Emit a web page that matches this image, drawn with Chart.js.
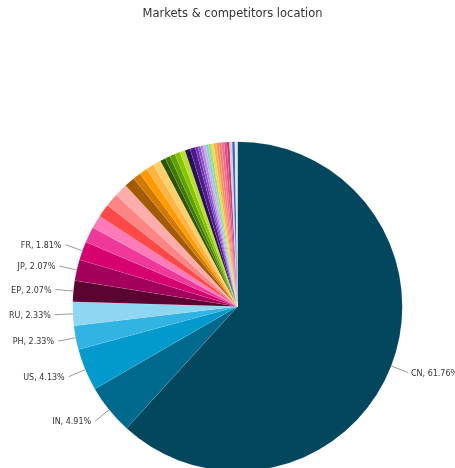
<!DOCTYPE html>
<html>
<head>
<meta charset="utf-8">
<script src="https://cdn.jsdelivr.net/npm/chart.js@4.4.1/dist/chart.umd.min.js"></script>
<style>
  html, body { margin: 0; padding: 0; background: #fff; }
  .wrap { width: 455px; height: 468px; overflow: hidden; }
</style>
</head>
<body>
<div class="wrap">
  <canvas id="markets" width="455" height="480"></canvas>
</div>
<script>
// patent counts per location, largest first (small ones have no visible label)
const locations = ['CN', 'IN', 'US', 'PH', 'RU', 'EP', 'JP', 'FR',
  '', '', '', '', '', '', '', '', '', '', '', '', '', '', '', '', '', '', '', '', '',
  '', '', '', '', '', '', '', '', '', '', '', '', '', '', '', ''];
const counts = [239, 19, 16, 9, 9, 8, 8, 7,
  6, 5, 5, 5, 5, 4, 3, 3, 3, 3, 2, 2, 2, 2, 2, 2, 2, 1, 1, 1,
  1, 1, 1, 1, 1, 1, 1, 1, 1, 1, 1, 1, 1];
const sliceColors = ['#03475f', '#006a8e', '#0299cc', '#31b3e3', '#8ed6f1',
  '#5c0431', '#a3005b', '#d6006f', '#f0379a', '#ff7ab9', '#ff4848', '#ff8585', '#ffacac',
  '#a35a00', '#d37800', '#ff9a00', '#ffb444', '#ffd06a',
  '#2d5200', '#3f7a00', '#5fa000', '#86c400', '#b8e030',
  '#2b0f54', '#4c1c8c', '#6e30b0', '#8e52cc', '#b085de',
  '#c9a9e9', '#7fd4d4', '#a8d870', '#eed84a', '#f6b04c', '#f59050', '#f47a74',
  '#ef6a96', '#e04a7c', '#c83a6a', '#d0cfe6', '#3f66b8', '#e4e4ec'];
const title = 'Markets & competitors location';
const minLabelPercent = 1.8;

const total = counts.reduce((a, b) => a + b, 0);

// title + outside labels with leader ticks
const outsideLabels = {
  id: 'outsideLabels',
  afterDraw(chart) {
    const ctx = chart.ctx;
    ctx.save();
    ctx.fillStyle = '#333';
    ctx.font = '11.5px "DejaVu Sans", sans-serif';
    ctx.textAlign = 'center';
    ctx.textBaseline = 'middle';
    ctx.fillText(title, 232.5, 14.5);

    ctx.font = '8px "DejaVu Sans", sans-serif';
    ctx.lineWidth = 1;
    ctx.strokeStyle = '#9a9a9a';
    const meta = chart.getDatasetMeta(0);
    meta.data.forEach((arc, i) => {
      const pct = counts[i] / total * 100;
      if (pct < minLabelPercent || !locations[i]) return;
      const {x, y, startAngle, endAngle, outerRadius} = arc.getProps(['x', 'y', 'startAngle', 'endAngle', 'outerRadius'], true);
      const mid = (startAngle + endAngle) / 2;
      const cos = Math.cos(mid), sin = Math.sin(mid);
      const x0 = x + outerRadius * cos, y0 = y + outerRadius * sin;
      const x1 = x + (outerRadius + 18) * cos, y1 = y + (outerRadius + 18) * sin;
      ctx.beginPath();
      ctx.moveTo(x0, y0);
      ctx.lineTo(x1, y1);
      ctx.stroke();
      const right = cos >= 0;
      ctx.textAlign = right ? 'left' : 'right';
      ctx.fillStyle = '#333';
      ctx.fillText(locations[i] + ', ' + pct.toFixed(2) + '%', x1 + (right ? 3 : -4), y1 + 1);
    });
    ctx.restore();
  }
};

new Chart(document.getElementById('markets').getContext('2d'), {
  type: 'pie',
  data: {
    labels: locations,
    datasets: [{
      data: counts,
      backgroundColor: sliceColors,
      borderColor: 'rgba(255,255,255,0.2)',
      borderWidth: 0.4,
      hoverBorderWidth: 0.4
    }]
  },
  options: {
    responsive: false,
    animation: false,
    events: [],
    layout: { padding: { top: 141.5, left: 72.5, right: 52.5, bottom: 8.5 } },
    plugins: {
      legend: { display: false },
      tooltip: { enabled: false }
    }
  },
  plugins: [outsideLabels]
});
</script>
</body>
</html>
